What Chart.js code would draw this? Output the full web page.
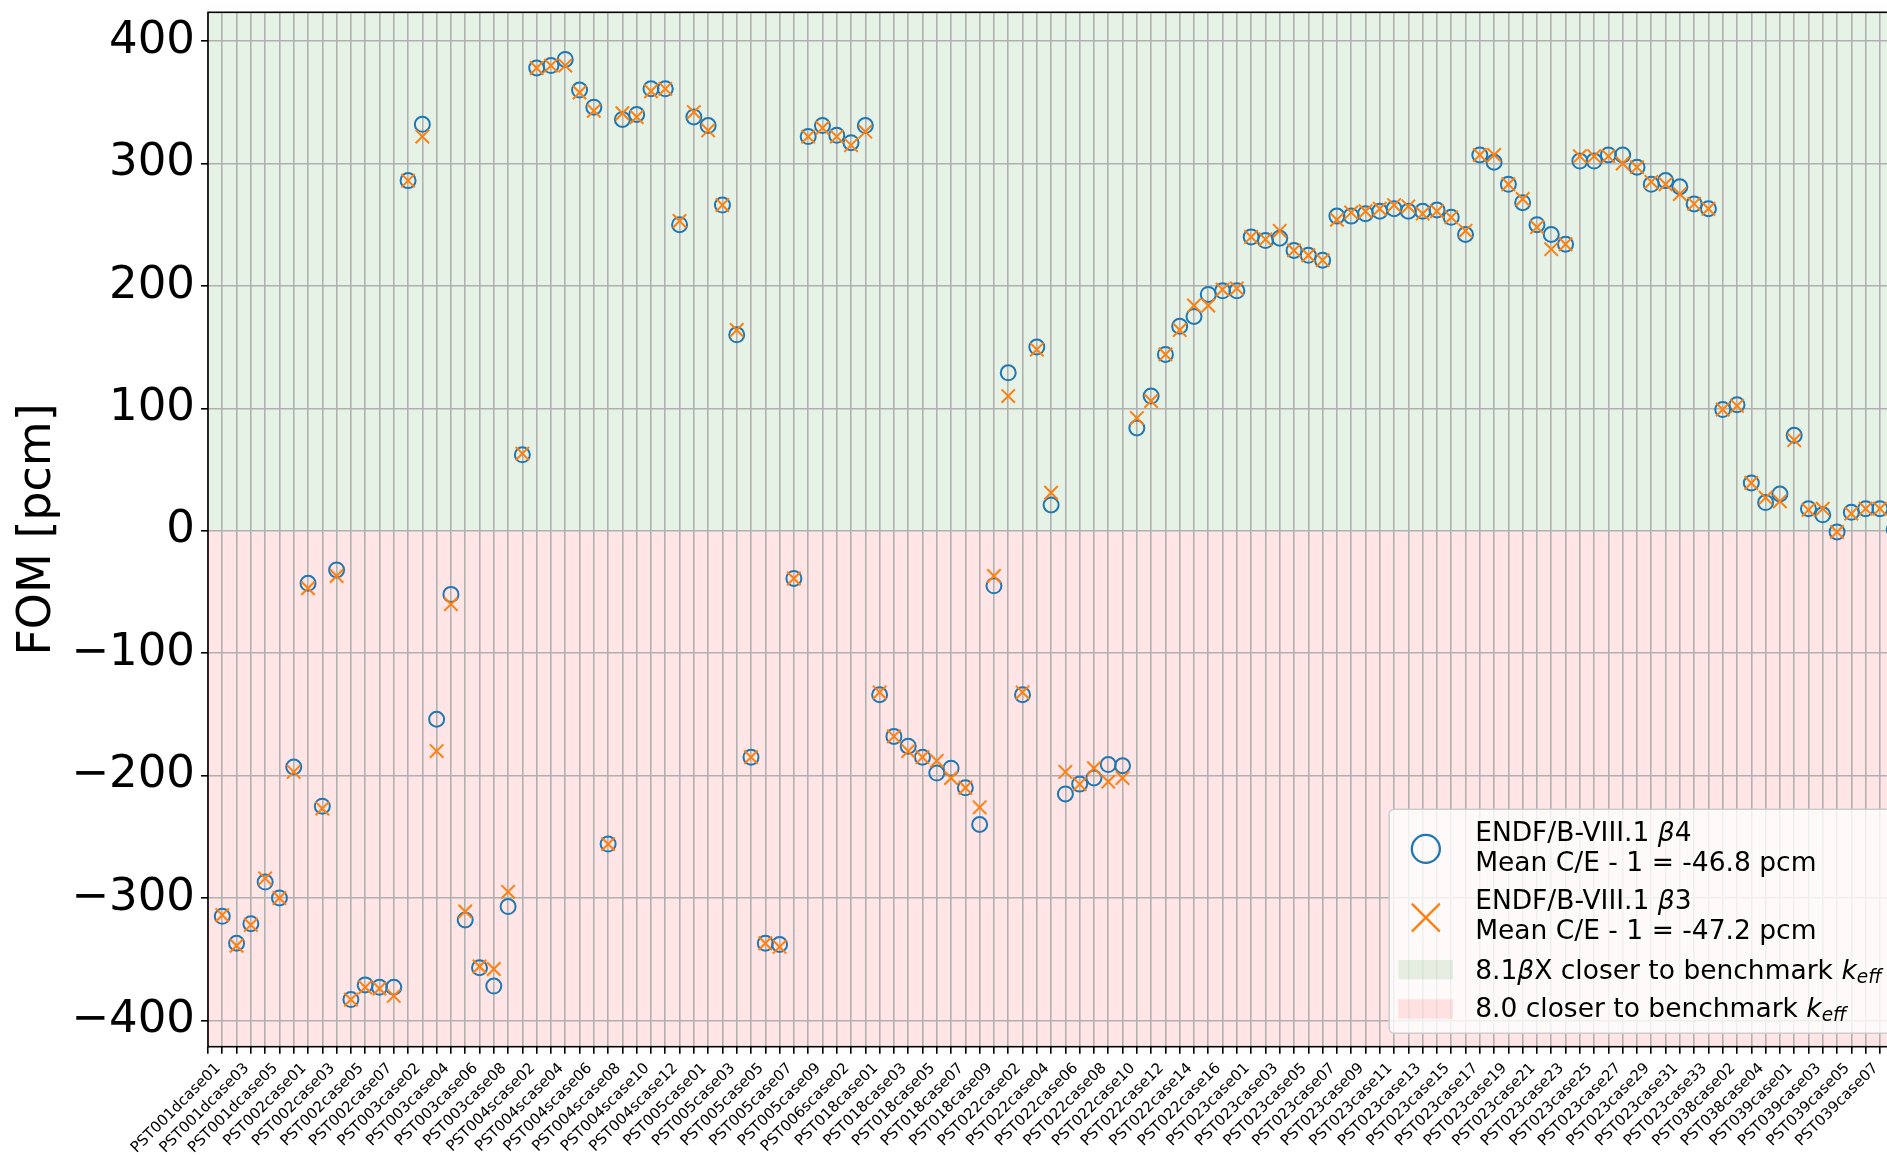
<!DOCTYPE html>
<html>
<head>
<meta charset="utf-8">
<title>FOM [pcm]</title>
<script src="https://cdn.jsdelivr.net/npm/chart.js@4.4.1/dist/chart.umd.min.js"></script>
<style>
  html, body { margin: 0; padding: 0; background: #fff; overflow: hidden; }
  #contenedor { width: 1920px; height: 1155px; position: relative; }
</style>
</head>
<body>
<div id="contenedor"><canvas id="grafica"></canvas></div>
<script>
// casos del benchmark (eje x)
const casos = [
  "PST001dcase01", "PST001dcase02", "PST001dcase03", "PST001dcase04", "PST001dcase05", "PST001dcase06",
  "PST002case01", "PST002case02", "PST002case03", "PST002case04", "PST002case05", "PST002case06", "PST002case07",
  "PST003case01", "PST003case02", "PST003case03", "PST003case04", "PST003case05", "PST003case06", "PST003case07", "PST003case08",
  "PST004scase01", "PST004scase02", "PST004scase03", "PST004scase04", "PST004scase05", "PST004scase06", "PST004scase07",
  "PST004scase08", "PST004scase09", "PST004scase10", "PST004scase11", "PST004scase12", "PST004scase13",
  "PST005case01", "PST005case02", "PST005case03", "PST005case04", "PST005case05", "PST005case06", "PST005case07",
  "PST005case08", "PST005case09",
  "PST006scase01", "PST006scase02", "PST006scase03",
  "PST018case01", "PST018case02", "PST018case03", "PST018case04", "PST018case05", "PST018case06", "PST018case07",
  "PST018case08", "PST018case09",
  "PST022case01", "PST022case02", "PST022case03", "PST022case04", "PST022case05", "PST022case06", "PST022case07",
  "PST022case08", "PST022case09", "PST022case10", "PST022case11", "PST022case12", "PST022case13", "PST022case14",
  "PST022case15", "PST022case16", "PST022case17",
  "PST023case01", "PST023case02", "PST023case03", "PST023case04", "PST023case05", "PST023case06", "PST023case07",
  "PST023case08", "PST023case09", "PST023case10", "PST023case11", "PST023case12", "PST023case13", "PST023case14",
  "PST023case15", "PST023case16", "PST023case17", "PST023case18", "PST023case19", "PST023case20", "PST023case21",
  "PST023case22", "PST023case23", "PST023case24", "PST023case25", "PST023case26", "PST023case27", "PST023case28",
  "PST023case29", "PST023case30", "PST023case31", "PST023case32", "PST023case33",
  "PST038case01", "PST038case02", "PST038case03", "PST038case04", "PST038case05",
  "PST039case01", "PST039case02", "PST039case03", "PST039case04", "PST039case05", "PST039case06", "PST039case07",
  "PST039case08"
];

// FOM [pcm] para ENDF/B-VIII.1 beta4 (circulos)
const fomBeta4 = [
  -315, -337, -321, -287, -300, -193, -43, -225, -32, -383,
  -371, -373, -373, 286, 332, -154, -52, -318, -357, -372,
  -307, 62, 378, 380, 385, 360, 346, -256, 336, 340,
  361, 361, 250, 338, 331, 266, 160, -185, -337, -338,
  -39, 322, 331, 323, 317, 331, -134, -168, -176, -185,
  -198, -194, -210, -240, -45, 129, -134, 150, 21, -215,
  -207, -202, -191, -192, 84, 110, 144, 167, 175, 193,
  196, 196, 240, 237, 239, 229, 225, 221, 257, 257,
  259, 261, 263, 261, 261, 262, 256, 242, 307, 301,
  283, 268, 250, 242, 234, 302, 302, 307, 307, 297,
  283, 286, 281, 267, 263, 99, 103, 39, 23, 30,
  78, 18, 13, -1, 15, 18, 18, 1
];

// FOM [pcm] para ENDF/B-VIII.1 beta3 (cruces)
const fomBeta3 = [
  -314, -339, -322, -284, -300, -197, -47, -227, -37, -383,
  -373, -374, -380, 286, 322, -180, -60, -311, -356, -358,
  -295, 63, 378, 380, 380, 358, 343, -256, 341, 338,
  359, 361, 253, 342, 327, 266, 164, -185, -337, -340,
  -39, 322, 329, 322, 315, 326, -132, -168, -180, -185,
  -188, -202, -210, -226, -37, 110, -132, 148, 31, -197,
  -207, -194, -205, -202, 92, 106, 144, 164, 184, 184,
  197, 198, 240, 238, 245, 229, 225, 221, 254, 260,
  261, 263, 266, 265, 259, 261, 256, 245, 307, 307,
  283, 271, 248, 230, 234, 306, 306, 306, 300, 297,
  285, 283, 275, 267, 263, 99, 102, 39, 27, 24,
  74, 17, 18, -1, 14, 18, 18, 1
];

const mediaBeta4 = "-46.8";
const mediaBeta3 = "-47.2";

const FUENTE = "'DejaVu Sans', sans-serif";
const AZUL = "#1f77b4";
const NARANJA = "#ff7f0e";
const VERDE = "rgba(0, 128, 0, 0.1)";
const ROJO = "rgba(255, 0, 0, 0.1)";

const puntos = serie => serie.map((v, i) => ({ x: i, y: v }));

// escribe tramos de texto [texto, italica, subindice] uno tras otro
function dibujarTramos(ctx, x, y, tramos, size) {
  tramos.forEach(([txt, it, sub]) => {
    const s = sub ? size * 0.7 : size;
    ctx.font = `${it ? "italic " : ""}${s}px ${FUENTE}`;
    ctx.fillText(txt, x, y + (sub ? size * 0.16 : 0));
    x += ctx.measureText(txt).width;
  });
  return x;
}

function anchoTramos(ctx, tramos, size) {
  let w = 0;
  tramos.forEach(([txt, it, sub]) => {
    const s = sub ? size * 0.7 : size;
    ctx.font = `${it ? "italic " : ""}${s}px ${FUENTE}`;
    w += ctx.measureText(txt).width;
  });
  return w;
}

// fondo verde / rojo a cada lado de cero
const zonas = {
  id: "zonas",
  beforeDraw(chart) {
    const { ctx, chartArea: a, scales: { y } } = chart;
    const y0 = y.getPixelForValue(0);
    ctx.save();
    ctx.fillStyle = VERDE;
    ctx.fillRect(a.left, a.top, a.right - a.left, y0 - a.top);
    ctx.fillStyle = ROJO;
    ctx.fillRect(a.left, y0, a.right - a.left, a.bottom - y0);
    ctx.restore();
  },
  afterDatasetsDraw(chart) {
    const { ctx, chartArea: a } = chart;
    ctx.save();
    ctx.strokeStyle = "#000";
    ctx.lineWidth = 1.6;
    ctx.strokeRect(a.left, a.top, a.right - a.left, a.bottom - a.top);
    ctx.restore();
  }
};

// leyenda dibujada a mano (texto con beta italica y k_eff)
const leyenda = {
  id: "leyenda",
  afterDraw(chart) {
    const { ctx, chartArea: a } = chart;
    const size = 26.5;
    const filas = [
      [["ENDF/B-VIII.1 ", false], ["β", true], ["4", false]],
      [[`Mean C/E - 1 = ${mediaBeta4} pcm`, false]],
      [["ENDF/B-VIII.1 ", false], ["β", true], ["3", false]],
      [[`Mean C/E - 1 = ${mediaBeta3} pcm`, false]],
      [["8.1", false], ["β", true], ["X closer to benchmark ", false], ["k", true], ["eff", true, true]],
      [["8.0 closer to benchmark ", false], ["k", true], ["eff", true, true]]
    ];
    const maxW = Math.max(...filas.map(f => anchoTramos(ctx, f, size)));
    const ancho = 86 + maxW + 13;
    const alto = 224;
    const x0 = a.right - 14 - ancho;
    const y0 = a.bottom - 13.5 - alto;

    ctx.save();
    ctx.beginPath();
    ctx.roundRect(x0, y0, ancho, alto, 5);
    ctx.fillStyle = "rgba(255,255,255,0.8)";
    ctx.fill();
    ctx.strokeStyle = "#cccccc";
    ctx.lineWidth = 1.5;
    ctx.stroke();

    // marcadores
    const mx = x0 + 36.7;
    ctx.lineWidth = 2.3;
    ctx.strokeStyle = AZUL;
    ctx.beginPath();
    ctx.arc(mx, y0 + 39.7, 14, 0, Math.PI * 2);
    ctx.stroke();
    ctx.strokeStyle = NARANJA;
    ctx.beginPath();
    const cy = y0 + 108.4;
    ctx.moveTo(mx - 14, cy - 14); ctx.lineTo(mx + 14, cy + 14);
    ctx.moveTo(mx - 14, cy + 14); ctx.lineTo(mx + 14, cy - 14);
    ctx.stroke();
    ctx.fillStyle = VERDE;
    ctx.fillRect(x0 + 9, y0 + 150.7, 55, 19.5);
    ctx.fillStyle = ROJO;
    ctx.fillRect(x0 + 9, y0 + 190, 55, 19.5);

    // textos
    ctx.fillStyle = "#000";
    ctx.textBaseline = "alphabetic";
    ctx.textAlign = "left";
    const bases = [31.4, 61.4, 100, 130, 169.7, 208];
    filas.forEach((f, i) => dibujarTramos(ctx, x0 + 86, y0 + bases[i], f, size));
    ctx.restore();
  }
};

window.onload = () => {
  const ctx = document.getElementById("grafica").getContext("2d");
  new Chart(ctx, {
    type: "scatter",
    data: {
      datasets: [
        {
          label: "ENDF/B-VIII.1 β4",
          data: puntos(fomBeta4),
          pointStyle: "circle",
          pointRadius: 7.5,
          pointHoverRadius: 7.5,
          pointBorderWidth: 2,
          pointBorderColor: AZUL,
          pointBackgroundColor: "rgba(0,0,0,0)",
          order: 1
        },
        {
          label: "ENDF/B-VIII.1 β3",
          data: puntos(fomBeta3),
          pointStyle: "crossRot",
          pointRadius: 9.5,
          pointHoverRadius: 9.5,
          pointBorderWidth: 2,
          pointBorderColor: NARANJA,
          order: 0
        }
      ]
    },
    options: {
      responsive: true,
      maintainAspectRatio: false,
      animation: false,
      layout: { padding: { top: 12.3, right: 10.3, bottom: 0, left: 0 } },
      plugins: { legend: { display: false }, tooltip: { enabled: false } },
      scales: {
        x: {
          type: "linear",
          min: -1,
          max: casos.length,
          border: { display: false },
          grid: { color: "#b0b0b0", lineWidth: 1.6, tickColor: "#000", tickWidth: 1.6, tickLength: 7 },
          ticks: {
            stepSize: 1,
            autoSkip: false,
            minRotation: 45,
            maxRotation: 45,
            padding: 6,
            labelOffset: -4,
            color: "#000",
            font: { family: FUENTE, size: 15 },
            callback: v => (Number.isInteger(v) && v >= 0 && v < casos.length && v % 2 === 0) ? casos[v] : ""
          },
          afterFit(scale) {
            scale.height = 108.3;
            scale.paddingLeft = 0;
            scale.paddingRight = 0;
          }
        },
        y: {
          min: -421.5,
          max: 423.5,
          border: { display: false },
          grid: { color: "#b0b0b0", lineWidth: 1.6, tickColor: "#000", tickWidth: 1.6, tickLength: 7 },
          title: {
            display: true,
            text: "FOM [pcm]",
            color: "#000",
            font: { family: FUENTE, size: 46 },
            padding: { top: 10, bottom: 0 }
          },
          ticks: {
            stepSize: 100,
            includeBounds: false,
            padding: 6,
            color: "#000",
            font: { family: FUENTE, size: 45 },
            callback: v => v < 0 ? "\u2212" + Math.abs(v) : String(v)
          },
          afterFit(scale) {
            scale.width = 208;
            scale.paddingTop = 0;
            scale.paddingBottom = 0;
          }
        }
      }
    },
    plugins: [zonas, leyenda]
  });
};
</script>
</body>
</html>
